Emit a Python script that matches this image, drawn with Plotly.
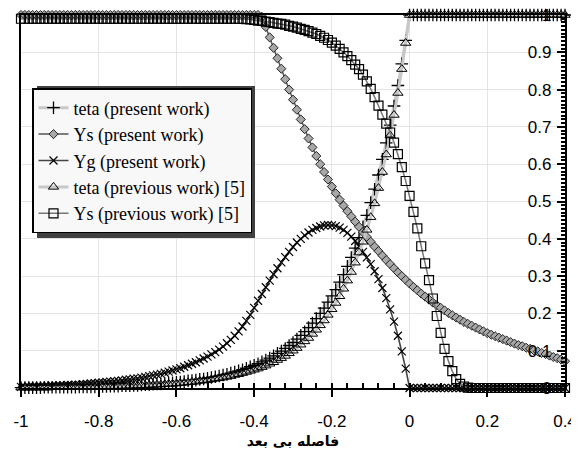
import plotly.graph_objects as go

X = [-1.00, -0.99, -0.98, -0.97, -0.96, -0.95, -0.94, -0.93, -0.92, -0.91,
     -0.90, -0.89, -0.88, -0.87, -0.86, -0.85, -0.84, -0.83, -0.82, -0.81,
     -0.80, -0.79, -0.78, -0.77, -0.76, -0.75, -0.74, -0.73, -0.72, -0.71,
     -0.70, -0.69, -0.68, -0.67, -0.66, -0.65, -0.64, -0.63, -0.62, -0.61,
     -0.60, -0.59, -0.58, -0.57, -0.56, -0.55, -0.54, -0.53, -0.52, -0.51,
     -0.50, -0.49, -0.48, -0.47, -0.46, -0.45, -0.44, -0.43, -0.42, -0.41,
     -0.40, -0.39, -0.38, -0.37, -0.36, -0.35, -0.34, -0.33, -0.32, -0.31,
     -0.30, -0.29, -0.28, -0.27, -0.26, -0.25, -0.24, -0.23, -0.22, -0.21,
     -0.20, -0.19, -0.18, -0.17, -0.16, -0.15, -0.14, -0.13, -0.12, -0.11,
     -0.10, -0.09, -0.08, -0.07, -0.06, -0.05, -0.04, -0.03, -0.02, -0.01,
     0.00, 0.01, 0.02, 0.03, 0.04, 0.05, 0.06, 0.07, 0.08, 0.09,
     0.10, 0.11, 0.12, 0.13, 0.14, 0.15, 0.16, 0.17, 0.18, 0.19,
     0.20, 0.21, 0.22, 0.23, 0.24, 0.25, 0.26, 0.27, 0.28, 0.29,
     0.30, 0.31, 0.32, 0.33, 0.34, 0.35, 0.36, 0.37, 0.38, 0.39, 0.40]

TETA_PRESENT = [
    0.001, 0.001, 0.001, 0.001, 0.001, 0.001, 0.002, 0.002, 0.002, 0.002,
    0.002, 0.002, 0.002, 0.002, 0.002, 0.003, 0.003, 0.003, 0.003, 0.003,
    0.004, 0.004, 0.004, 0.005, 0.005, 0.005, 0.006, 0.006, 0.006, 0.007,
    0.007, 0.008, 0.009, 0.009, 0.010, 0.011, 0.011, 0.012, 0.013, 0.014,
    0.015, 0.016, 0.017, 0.019, 0.020, 0.021, 0.023, 0.024, 0.026, 0.028,
    0.030, 0.032, 0.035, 0.037, 0.040, 0.043, 0.046, 0.049, 0.053, 0.057,
    0.061, 0.065, 0.070, 0.075, 0.080, 0.086, 0.093, 0.099, 0.106, 0.114,
    0.122, 0.131, 0.141, 0.151, 0.162, 0.174, 0.186, 0.200, 0.214, 0.230,
    0.247, 0.264, 0.284, 0.304, 0.326, 0.350, 0.375, 0.403, 0.432, 0.463,
    0.497, 0.533, 0.571, 0.613, 0.657, 0.705, 0.756, 0.811, 0.869, 0.932,
] + [1.0] * 41

YS_PRESENT = [1.0] * 62 + [
    0.995, 0.968, 0.940, 0.912, 0.884, 0.856, 0.828, 0.800,
    0.773, 0.746, 0.720, 0.694, 0.669, 0.645, 0.622, 0.600, 0.579, 0.559,
    0.540, 0.522, 0.505, 0.489, 0.474, 0.460, 0.446, 0.432, 0.418, 0.405,
    0.392, 0.379, 0.367, 0.355, 0.343, 0.332, 0.321, 0.310, 0.300, 0.290,
    0.280, 0.271, 0.262, 0.253, 0.245, 0.237, 0.229, 0.222, 0.215, 0.208,
    0.201, 0.195, 0.189, 0.183, 0.177, 0.172, 0.167, 0.162, 0.157, 0.152,
    0.147, 0.143, 0.139, 0.135, 0.131, 0.127, 0.123, 0.119, 0.115, 0.112,
    0.108, 0.105, 0.101, 0.098, 0.094, 0.091, 0.087, 0.083, 0.080, 0.076, 0.072,
]

YG_PRESENT = [
    0.003, 0.003, 0.004, 0.004, 0.004, 0.005, 0.005, 0.005, 0.006, 0.006,
    0.007, 0.007, 0.008, 0.008, 0.009, 0.009, 0.010, 0.011, 0.012, 0.013,
    0.014, 0.015, 0.016, 0.017, 0.018, 0.019, 0.020, 0.022, 0.023, 0.025,
    0.026, 0.028, 0.030, 0.032, 0.034, 0.036, 0.038, 0.041, 0.044, 0.047,
    0.050, 0.053, 0.057, 0.061, 0.065, 0.069, 0.074, 0.079, 0.084, 0.090,
    0.096, 0.103, 0.111, 0.120, 0.129, 0.140, 0.152, 0.165, 0.180, 0.196,
    0.215, 0.234, 0.252, 0.270, 0.288, 0.305, 0.321, 0.337, 0.351, 0.365,
    0.378, 0.390, 0.400, 0.409, 0.417, 0.424, 0.429, 0.433, 0.436, 0.437,
    0.436, 0.434, 0.430, 0.424, 0.416, 0.406, 0.394, 0.380, 0.365, 0.350,
    0.332, 0.313, 0.292, 0.268, 0.241, 0.211, 0.178, 0.140, 0.098, 0.052,
] + [0.0] * 41

TETA_PREVIOUS = [
    0.001, 0.001, 0.001, 0.001, 0.001, 0.001, 0.001, 0.001, 0.002, 0.002,
    0.002, 0.002, 0.002, 0.002, 0.002, 0.003, 0.003, 0.003, 0.003, 0.003,
    0.003, 0.004, 0.004, 0.004, 0.004, 0.005, 0.005, 0.005, 0.006, 0.006,
    0.006, 0.007, 0.007, 0.008, 0.008, 0.009, 0.009, 0.010, 0.011, 0.011,
    0.012, 0.013, 0.014, 0.015, 0.016, 0.017, 0.019, 0.020, 0.021, 0.023,
    0.025, 0.026, 0.028, 0.030, 0.032, 0.035, 0.037, 0.040, 0.043, 0.046,
    0.049, 0.052, 0.056, 0.060, 0.065, 0.069, 0.075, 0.080, 0.086, 0.093,
    0.100, 0.107, 0.116, 0.125, 0.134, 0.145, 0.156, 0.168, 0.181, 0.196,
    0.211, 0.228, 0.246, 0.266, 0.288, 0.311, 0.336, 0.363, 0.392, 0.424,
    0.458, 0.495, 0.536, 0.579, 0.626, 0.677, 0.732, 0.791, 0.855, 0.925,
] + [1.0] * 41

YS_PREVIOUS = [0.990] * 58 + [
    0.989, 0.988,
    0.987, 0.985, 0.984, 0.982, 0.981, 0.979, 0.977, 0.976, 0.974, 0.971,
    0.969, 0.966, 0.963, 0.960, 0.957, 0.953, 0.949, 0.944, 0.939, 0.933,
    0.926, 0.918, 0.909, 0.900, 0.890, 0.879, 0.867, 0.855, 0.840, 0.822,
    0.802, 0.780, 0.757, 0.733, 0.709, 0.685, 0.658, 0.627, 0.592, 0.555,
    0.515, 0.472, 0.428, 0.380, 0.334, 0.289, 0.240, 0.193, 0.148, 0.105,
    0.072, 0.045, 0.024, 0.011, 0.004, 0.001, 0.0, 0.0, 0.0, 0.0,
] + [0.0] * 21

SERIES_NAMES = ["teta (present work)", "Ys (present work)", "Yg (present work)",
                "teta (previous work) [5]", "Ys (previous work) [5]"]

X_TICKS = [-1, -0.8, -0.6, -0.4, -0.2, 0, 0.2, 0.4]
X_TICK_LABELS = ["-1", "-0.8", "-0.6", "-0.4", "-0.2", "0", "0.2", "0.4"]
Y_TICKS = [0, 0.1, 0.2, 0.3, 0.4, 0.5, 0.6, 0.7, 0.8, 0.9, 1]
Y_TICK_LABELS = ["0", "0.1", "0.2", "0.3", "0.4", "0.5", "0.6", "0.7", "0.8", "0.9", "1"]
X_TITLE = "فاصله بی بعد"

fig = go.Figure()

styles = [
    dict(line=dict(color="#c8c8c8", width=3),
         marker=dict(symbol="cross-thin", size=9, color="black",
                     line=dict(color="black", width=1.3))),
    dict(line=dict(color="#555555", width=1.5),
         marker=dict(symbol="diamond", size=7, color="#a8a8a8",
                     line=dict(color="#222222", width=1))),
    dict(line=dict(color="#444444", width=1.6),
         marker=dict(symbol="x-thin", size=8, color="black",
                     line=dict(color="black", width=1.2))),
    dict(line=dict(color="#c8c8c8", width=3),
         marker=dict(symbol="triangle-up-open", size=9, color="black",
                     line=dict(color="black", width=1))),
    dict(line=dict(color="#777777", width=1.5),
         marker=dict(symbol="square-open", size=9, color="black",
                     line=dict(color="black", width=1.2))),
]
ys = [TETA_PRESENT, YS_PRESENT, YG_PRESENT, TETA_PREVIOUS, YS_PREVIOUS]

for name, yv, st in zip(SERIES_NAMES, ys, styles):
    fig.add_trace(go.Scatter(x=X, y=yv, name=name, mode="lines+markers",
                             cliponaxis=False, **st))

# page body has an 8px margin: the figure starts at (8, 8) in the window
OFF = 8
W, H = 579 - OFF, 466 - OFF
L, R, T, B = 21 - OFF, W - (565 - OFF), 15 - OFF, H - (388 - OFF)
pw, ph = W - L - R, H - T - B


def px_x(p):  # window pixel -> paper x
    return (p - OFF - L) / pw


def px_y(p):  # window pixel -> paper y
    return (H - B - (p - OFF)) / ph


# legend shadow (offset ~4px right and down from the legend box)
fig.add_shape(type="rect", xref="paper", yref="paper",
              x0=px_x(37), x1=px_x(255), y0=px_y(238), y1=px_y(86),
              fillcolor="#404040", line=dict(width=0), layer="above")

axis_font = dict(family="Liberation Sans, Arial", size=17, color="black")

fig.update_layout(
    width=W, height=H,
    margin=dict(l=L, r=R, t=T, b=B, autoexpand=False),
    paper_bgcolor="white", plot_bgcolor="white",
    showlegend=True,
    legend=dict(x=px_x(32), y=px_y(88), xanchor="left", yanchor="top",
                bgcolor="#f8f8f8", bordercolor="black", borderwidth=1.5,
                font=dict(family="Liberation Serif, Times New Roman", size=18, color="black"),
                itemwidth=30),
    xaxis=dict(range=[-1, 0.4], tickvals=X_TICKS, ticktext=X_TICK_LABELS,
               automargin=False,
               ticks="outside", ticklen=7, tickwidth=2, tickcolor="black",
               showline=True, linecolor="black", linewidth=2, mirror=True,
               showgrid=True, gridcolor="#e4e4e4", gridwidth=1, zeroline=False,
               tickfont=axis_font, ticklabelstandoff=10,
               minor=dict(dtick=0.04, tick0=0, ticks="inside", ticklen=5,
                          tickwidth=2, tickcolor="black", showgrid=False),
               title=dict(text=X_TITLE, standoff=6,
                          font=dict(family="DejaVu Sans, Arial", size=14,
                                    color="black", weight="bold"))),
    yaxis=dict(range=[0, 1], side="right", tickvals=Y_TICKS, ticktext=Y_TICK_LABELS,
               automargin=False,
               ticks="inside", ticklen=8, tickwidth=2, tickcolor="black",
               ticklabelposition="inside", ticklabeloverflow="allow",
               showline=True, linecolor="black", linewidth=2, mirror=True,
               showgrid=True, gridcolor="#e4e4e4", gridwidth=1, zeroline=False,
               tickfont=axis_font, ticklabelstandoff=6,
               minor=dict(dtick=0.01, tick0=0, ticks="inside", ticklen=4,
                          tickwidth=1.5, tickcolor="black", showgrid=False)),
)

fig.write_html("out.html")
